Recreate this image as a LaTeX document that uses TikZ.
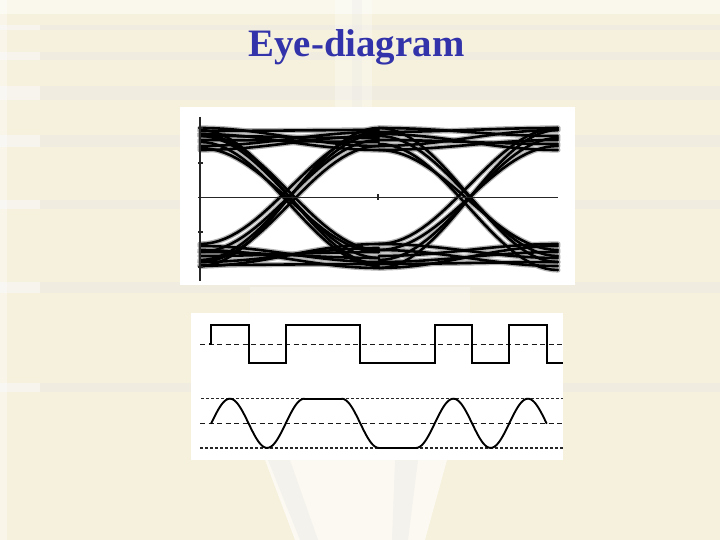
\documentclass[tikz,border=0pt]{standalone}
\usepackage{fontspec}
\setmainfont{Liberation Serif}
\definecolor{bgc}{RGB}{246,241,220}
\definecolor{stripec}{RGB}{236,234,228}
\definecolor{titleblue}{RGB}{50,50,170}
\tikzset{
  eyeunder/.style={line width=5.2bp, gray!60, line cap=round},
  eyetr/.style={line width=2.6bp, black, line cap=round},
  sqw/.style={line width=1.9bp, black, line join=miter},
  sinw/.style={line width=1.9bp, black, line cap=round},
  longdash/.style={line width=1.4bp, black!90, dash pattern=on 5bp off 3.5bp},
  shortdash/.style={line width=1.2bp, black!85, dash pattern=on 3bp off 2bp},
  panel/.style={fill=white, draw=none},
  axisline/.style={line width=1.4bp, black!85}
}
\begin{document}
\begin{tikzpicture}[x=1bp,y=-1bp]
\useasboundingbox (0,0) rectangle (720,540);
% ---- background ----
\fill[bgc] (0,0) rectangle (720,540);
\fill[white, opacity=0.5] (0,0) rectangle (720,14);
\foreach \ya/\yb in {25/30, 52/60, 86/100, 135/147, 200/209, 282/293, 383/392}{
  \fill[stripec, opacity=0.6] (0,\ya) rectangle (720,\yb);
  \fill[white, opacity=0.45] (0,\ya) rectangle (40,\yb);
}
\fill[white, opacity=0.35] (0,0) rectangle (7,540);
\fill[white, opacity=0.3] (335,0) rectangle (372,110);
\fill[gray!20, opacity=0.25] (352,0) rectangle (362,110);
\fill[white, opacity=0.35] (250,287) rectangle (470,313);
\fill[white, opacity=0.6] (265,460) -- (447,460) -- (425,540) -- (295,540) -- cycle;
\fill[gray!20, opacity=0.35] (268,460) -- (290,460) -- (318,540) -- (300,540) -- cycle;
\fill[gray!20, opacity=0.35] (395,460) -- (418,460) -- (408,540) -- (392,540) -- cycle;
% ---- title ----
\node[anchor=base, text=titleblue, font=\fontsize{39}{40}\selectfont\bfseries, inner sep=0pt]
  (title) at (356.5,56.7) {Eye-diagram};
% ---- eye diagram panel ----
\fill[panel] (180,107) rectangle (575,285);
\def\eyelist{
  200/128/146, 200/134/150, 200/150/136, 200/140/142, 200/146/132, 200/136/138, 200/131/130,
  200/246/262, 200/250/268, 200/262/248, 200/256/252, 200/266/244, 200/252/258, 200/265/264,
  200/130/264, 200/136/258, 200/142/266, 200/148/252, 200/134/250,
  200/266/128, 200/260/134, 200/252/140, 200/244/132, 200/262/146,
  379/128/136, 379/134/150, 379/146/130, 379/140/144, 379/150/140, 379/132/128,
  379/268/246, 379/250/266, 379/262/252, 379/256/244, 379/244/258, 379/264/262,
  379/128/262, 379/136/256, 379/144/270, 379/150/250,
  379/268/130, 379/260/138, 379/250/146, 379/244/128}
\foreach \xo/\a/\b in \eyelist{
  \draw[eyeunder] plot[domain=0:1, samples=30] ({\xo+179*\x},{\a+(\b-\a)*(1-cos(180*\x))/2});
}
\foreach \xo/\a/\b in \eyelist{
  \draw[eyetr] plot[domain=0:1, samples=30] ({\xo+179*\x},{\a+(\b-\a)*(1-cos(180*\x))/2});
}
% axes
\draw[axisline] (200,117) -- (200,281);
\foreach \ty in {128,163,197.5,232,267}{ \draw[axisline] (198,\ty) -- (203,\ty); }
\draw[axisline] (200,197.5) -- (558,197.5);
\draw[axisline] (378,194.5) -- (378,200.5);
% ---- lower panel ----
\fill[panel] (191,313) rectangle (563,460);
\draw[longdash] (200,344.3) -- (563,344.3);
\draw[shortdash] (201,398.7) -- (563,398.7);
\draw[longdash] (200,423.3) -- (563,423.3);
\draw[shortdash] (200,448) -- (563,448);
\draw[sqw] (209,344.3) -- (211.3,344.3) -- (211.3,325.3) -- (248.55,325.3) -- (248.55,363)
  -- (285.8,363) -- (285.8,325.3) -- (360.3,325.3) -- (360.3,363) -- (434.8,363)
  -- (434.8,325.3) -- (472.05,325.3) -- (472.05,363) -- (509.3,363) -- (509.3,325.3)
  -- (546.55,325.3) -- (546.55,363) -- (563,363);
\foreach \xo/\va/\vb/\ta/\tb in {
  192.65/-1/1/0.5/1, 229.9/1/-1/0/1, 267.15/-1/1/0/1, 304.4/1/1/0/1, 341.65/1/-1/0/1,
  378.9/-1/-1/0/1, 416.15/-1/1/0/1, 453.4/1/-1/0/1, 490.65/-1/1/0/1, 527.9/1/-1/0/0.5}{
  \draw[sinw] plot[domain=\ta:\tb, samples=30]
    ({\xo+37.25*\x},{423.3-24.6*(\va+(\vb-\va)*(1-cos(180*\x))/2)});
}
\end{tikzpicture}
\end{document}
